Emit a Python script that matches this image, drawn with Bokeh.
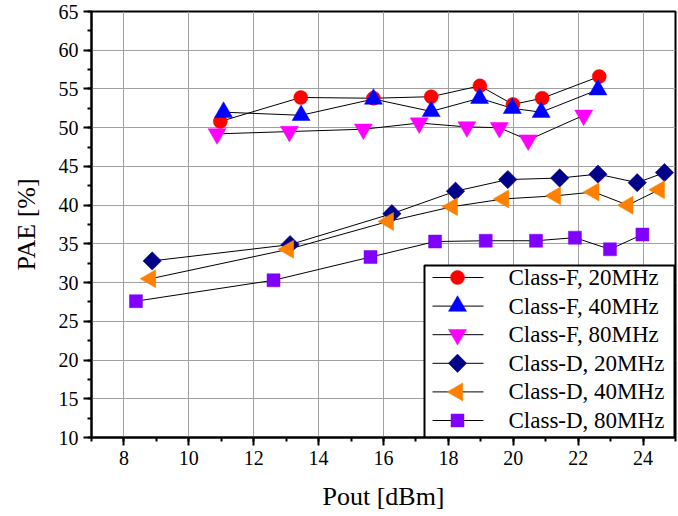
from math import pi
from bokeh.plotting import figure
from bokeh.models import Range1d, SingleIntervalTicker
from bokeh.core.properties import value
from bokeh.embed import file_html
from bokeh.resources import INLINE

# ---- data ----
cf20_x = [10.97, 13.45, 15.69, 17.47, 18.97, 19.99, 20.89, 22.65]
cf20_y = [50.8, 53.9, 53.8, 54.0, 55.4, 53.0, 53.8, 56.6]

cf40_x = [11.07, 13.46, 15.69, 17.47, 18.96, 19.97, 20.86, 22.61]
cf40_y = [52.0, 51.6, 53.7, 52.1, 53.8, 52.5, 52.0, 54.9]

cf80_x = [10.87, 13.10, 15.38, 17.10, 18.57, 19.57, 20.46, 22.17]
cf80_y = [49.2, 49.5, 49.8, 50.6, 50.1, 50.0, 48.4, 51.6]

cd20_x = [8.87, 13.12, 16.26, 18.22, 19.83, 21.43, 22.61, 23.82, 24.66]
cd20_y = [32.8, 34.9, 38.9, 41.8, 43.3, 43.5, 44.0, 42.9, 44.2]

cd40_x = [8.82, 13.07, 16.15, 18.12, 19.70, 21.30, 22.48, 23.53, 24.50]
cd40_y = [30.5, 34.3, 37.9, 39.8, 40.8, 41.2, 41.7, 40.0, 42.0]

cd80_x = [8.37, 12.61, 15.60, 17.59, 19.15, 20.70, 21.90, 22.98, 23.98]
cd80_y = [27.6, 30.3, 33.3, 35.3, 35.4, 35.4, 35.8, 34.3, 36.2]

labels = ["Class-F, 20MHz", "Class-F, 40MHz", "Class-F, 80MHz",
          "Class-D, 20MHz", "Class-D, 40MHz", "Class-D, 80MHz"]

# marker style per series: (marker, colour, size, angle)
styles = [
    ("circle", "#ff0000", 14, 0.0),
    ("triangle", "#0000ff", 18, 0.0),
    ("inverted_triangle", "#ff00ff", 18, 0.0),
    ("square", "#000088", 13, pi / 4),
    ("triangle", "#ff8000", 18, pi / 2),
    ("square", "#8000ff", 13, 0.0),
]
xs_all = [cf20_x, cf40_x, cf80_x, cd20_x, cd40_x, cd80_x]
ys_all = [cf20_y, cf40_y, cf80_y, cd20_y, cd40_y, cd80_y]

FONT = "Liberation Serif"
W, H = 678, 516
BL, BT, BR, BB = 91, 11, 3, 79
FW, FH = W - BL - BR, H - BT - BB

p = figure(width=W, height=H, output_backend="svg", toolbar_location=None,
           x_range=Range1d(7, 25), y_range=Range1d(10, 65),
           min_border_left=BL, min_border_top=BT, min_border_right=BR,
           min_border_bottom=BB)

# pixel coordinate system of the frame, used only for the legend box
p.extra_x_ranges = {"px": Range1d(0, FW)}
p.extra_y_ranges = {"py": Range1d(0, FH)}

p.xaxis.ticker = SingleIntervalTicker(interval=2, num_minor_ticks=2)
p.yaxis.ticker = SingleIntervalTicker(interval=5, num_minor_ticks=2)

for ax in (p.xaxis[0], p.yaxis[0]):
    ax.axis_line_width = 2
    ax.axis_line_color = "black"
    ax.major_tick_line_width = 2
    ax.minor_tick_line_width = 2
    ax.major_tick_in = 0
    ax.major_tick_out = 8
    ax.minor_tick_in = 0
    ax.minor_tick_out = 4
    ax.major_label_text_font = FONT
    ax.major_label_text_font_size = "20px"
    ax.major_label_text_color = "black"
    ax.major_label_standoff = 5
    ax.axis_label_text_font = FONT
    ax.axis_label_text_font_size = "26px"
    ax.axis_label_text_font_style = "normal"
    ax.axis_label_text_color = "black"

p.xaxis.axis_label = "Pout [dBm]"
p.yaxis.axis_label = "PAE [%]"
p.xaxis.axis_label_standoff = 14
p.yaxis.axis_label_standoff = 15

p.xgrid.ticker = p.xaxis[0].ticker
p.ygrid.ticker = p.yaxis[0].ticker
p.grid.grid_line_color = "#a0a0a0"
p.grid.grid_line_width = 1

p.outline_line_color = "black"
p.outline_line_width = 2
p.outline_line_alpha = 1

for xs, ys in zip(xs_all, ys_all):
    p.line(xs, ys, line_color="black", line_width=1)
for xs, ys, (mk, col, sz, ang) in zip(xs_all, ys_all, styles):
    p.scatter(xs, ys, marker=mk, size=sz, angle=ang, fill_color=col,
              line_color=col, line_width=0.5)

# ---- legend box (frame pixel units) ----
LEFT, RIGHT, TOP = 333, FW - 1, 172
ROW0, ROWSTEP = 160, 28.6
SEG0, SEG1, KEYX, TXTX = 341, 392, 366, 417

p.quad(left=[LEFT], right=[RIGHT], bottom=[0], top=[TOP],
       fill_color="white", line_color="black", line_width=2,
       x_range_name="px", y_range_name="py")
rows = [ROW0 - i * ROWSTEP for i in range(len(labels))]
p.segment(x0=[SEG0] * len(rows), x1=[SEG1] * len(rows), y0=rows, y1=rows,
          line_color="black", line_width=1,
          x_range_name="px", y_range_name="py")
for ry, (mk, col, sz, ang) in zip(rows, styles):
    p.scatter([KEYX], [ry], marker=mk, size=sz, angle=ang, fill_color=col,
              line_color=col, line_width=0.5,
              x_range_name="px", y_range_name="py")
p.text(x=[TXTX] * len(rows), y=rows, text=labels,
       text_font=value(FONT), text_font_size="23px", text_color="black",
       text_baseline="middle", text_align="left",
       x_range_name="px", y_range_name="py")

open("out.html", "w").write(file_html(p, INLINE))
